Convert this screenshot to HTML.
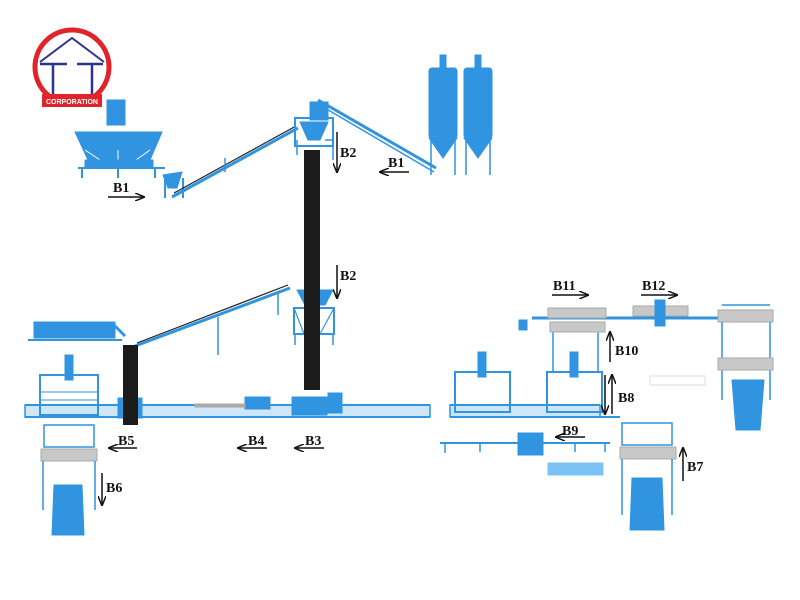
<!DOCTYPE html>
<html><head><meta charset="utf-8"><style>
html,body{margin:0;padding:0;background:#fff;width:800px;height:600px;overflow:hidden}
svg{display:block}
text.l{font-family:"Liberation Serif",serif;font-size:14px;fill:#111}
</style></head><body>
<svg width="800" height="600" viewBox="0 0 800 600" xmlns="http://www.w3.org/2000/svg">
<defs>
<marker id="ah" markerWidth="10" markerHeight="8" refX="9" refY="4" orient="auto" markerUnits="userSpaceOnUse"><path d="M0,0 L10,4 L0,8" fill="none" stroke="#111" stroke-width="1.5"/></marker>
</defs>
<!-- logo -->
<circle cx="72" cy="67" r="37" fill="#fff" stroke="#e0242a" stroke-width="5"/>
<path d="M40,62 L72,38 L104,62" fill="none" stroke="#2b3590" stroke-width="2"/>
<path d="M40,64 H67 M53,64 V94 M77,64 H103 M92,64 V94" stroke="#2b3590" stroke-width="2.5"/>
<rect x="42" y="94" width="60" height="13" fill="#e0242a"/>
<text x="72" y="104" text-anchor="middle" font-family="Liberation Sans,sans-serif" font-size="7" font-weight="bold" fill="#fff">CORPORATION</text>

<g fill="#3194e0" stroke="#3194e0">
<!-- mixer B1 -->
<rect x="107" y="100" width="18" height="25"/>
<path d="M75,132 H162 L150,160 H88 Z"/>
<path d="M85,150 L100,160 M118,150 L118,160 M150,150 L136,160" stroke="#fff" stroke-width="1"/>
<rect x="85" y="160" width="68" height="7"/>
<path d="M78,168 H165" stroke-width="2"/>
<path d="M82,168 V178 M118,168 V178 M155,168 V178" stroke-width="2"/>
<path d="M163,175 L182,172 L177,188 H168 Z"/>
<path d="M165,178 V198 M183,178 V198" stroke-width="2"/>
<!-- conveyor 1 -->
<path d="M172,197 L298,128" stroke-width="3"/>
<path d="M174,193 L296,126" stroke="#222" stroke-width="1.2"/>
<path d="M225,172 V158" stroke-width="1.5" fill="none"/>
<!-- tower -->
<rect x="295" y="118" width="38" height="28" fill="none" stroke-width="2"/>
<path d="M300,122 H328 L320,140 H308 Z"/>
<rect x="310" y="102" width="18" height="18"/>
<path d="M325,140 H333 V160 M297,140 V155" stroke-width="1.5" fill="none"/>
<!-- conveyor to silos -->
<path d="M318,100 L436,168" stroke-width="3"/>
<path d="M318,104 L434,172" stroke-width="1.5"/>
<!-- silos -->
<rect x="429" y="68" width="28" height="70" rx="3"/>
<path d="M429,138 L443,158 L457,138 Z"/>
<rect x="440" y="55" width="6" height="14"/>
<path d="M431,138 V175 M455,138 V175" stroke-width="1.5"/>
<rect x="464" y="68" width="28" height="70" rx="3"/>
<path d="M464,138 L478,158 L492,138 Z"/>
<rect x="475" y="55" width="6" height="14"/>
<path d="M466,138 V175 M490,138 V175" stroke-width="1.5"/>
<!-- second tower section -->
<path d="M297,290 H333 L325,305 H305 Z"/>
<rect x="294" y="308" width="40" height="26" fill="none" stroke-width="2"/>
<path d="M294,308 L304,334 M334,308 L320,334" stroke-width="1.2" fill="none"/>
<path d="M295,334 V345 M333,334 V345" stroke-width="1.5"/>
<!-- conveyor 2 -->
<path d="M135,346 L290,288" stroke-width="3"/>
<path d="M137,343 L288,285" stroke="#222" stroke-width="1.2"/>
<path d="M218,317 V355 M278,292 V315" stroke-width="1.5"/>
<!-- left top machine -->
<path d="M34,322 H115 V338 H34 Z"/>
<path d="M28,340 H122" stroke-width="2"/>
<path d="M115,326 L125,336" stroke-width="3"/>
<!-- main line left -->
<rect x="25" y="405" width="405" height="12" fill="#cfe6f8" stroke-width="1.5"/>
<path d="M25,405 H430 M25,417 H430" stroke-width="2"/>
<rect x="118" y="398" width="24" height="20"/>
<rect x="245" y="397" width="25" height="12"/>
<rect x="292" y="397" width="35" height="18"/>
<rect x="328" y="393" width="14" height="20"/>
<rect x="195" y="404" width="50" height="3" fill="#aaa" stroke="#aaa"/>
<!-- left gantry -->
<rect x="40" y="375" width="58" height="40" fill="none" stroke-width="2"/>
<rect x="65" y="355" width="8" height="25"/>
<path d="M40,392 H98 M40,400 H98" stroke-width="1"/>
<rect x="44" y="425" width="50" height="22" fill="none" stroke-width="1.5"/>
<rect x="41" y="449" width="56" height="12" fill="#c8c8c8" stroke="#aaa"/>
<path d="M43,461 V510 M95,461 V510" stroke-width="1.5"/>
<path d="M54,485 H82 L84,535 H52 Z"/>
<!-- right line -->
<rect x="450" y="405" width="150" height="12" fill="#cfe6f8" stroke-width="1.5"/>
<path d="M450,405 H600 M450,417 H620" stroke-width="2"/>
<rect x="455" y="372" width="55" height="40" fill="none" stroke-width="2"/>
<rect x="478" y="352" width="8" height="25"/>
<rect x="547" y="372" width="55" height="40" fill="none" stroke-width="2"/>
<rect x="570" y="352" width="8" height="25"/>
<path d="M553,330 V372 M598,330 V372" stroke-width="1.5"/>
<!-- top right line -->
<path d="M532,318 H718" stroke-width="3"/>
<rect x="519" y="320" width="8" height="10"/>
<rect x="548" y="308" width="58" height="10" fill="#c8c8c8" stroke="#aaa"/>
<rect x="550" y="322" width="55" height="10" fill="#c8c8c8" stroke="#aaa"/>
<rect x="633" y="306" width="55" height="10" fill="#c8c8c8" stroke="#aaa"/>
<rect x="655" y="300" width="10" height="26"/>
<!-- far right gantry -->
<rect x="718" y="310" width="55" height="12" fill="#c8c8c8" stroke="#aaa"/>
<path d="M722,305 H770 M722,322 V400 M770,322 V400" stroke-width="1.5"/>
<rect x="718" y="358" width="55" height="12" fill="#c8c8c8" stroke="#aaa"/>
<path d="M732,380 H764 L760,430 H736 Z"/>
<!-- B9 conveyor -->
<path d="M440,443 H610" stroke-width="2"/>
<rect x="518" y="433" width="25" height="22"/>
<path d="M445,443 V453 M480,443 V452 M575,443 V452 M605,443 V452" stroke-width="1.5"/>
<rect x="548" y="463" width="55" height="12" fill="#7cc3f5" stroke="#7cc3f5"/>
<!-- B7 gantry -->
<rect x="622" y="423" width="50" height="22" fill="none" stroke-width="1.5"/>
<rect x="620" y="447" width="56" height="12" fill="#c8c8c8" stroke="#aaa"/>
<path d="M622,459 V515 M672,459 V515" stroke-width="1.5"/>
<path d="M632,478 H662 L664,530 H630 Z"/>
</g>
<!-- black belts -->
<rect x="304" y="150" width="16" height="240" fill="#1b1b1b"/>
<rect x="123" y="345" width="15" height="80" fill="#1b1b1b"/>
<g fill="none" stroke="#ddd"><rect x="650" y="376" width="55" height="9"/></g>

<!-- arrows -->
<g stroke="#111" stroke-width="1.5" fill="none">
<path d="M108,197 H144" marker-end="url(#ah)"/>
<path d="M409,172 H380" marker-end="url(#ah)"/>
<path d="M337,132 V172" marker-end="url(#ah)"/>
<path d="M337,265 V298" marker-end="url(#ah)"/>
<path d="M137,448 H109" marker-end="url(#ah)"/>
<path d="M267,448 H238" marker-end="url(#ah)"/>
<path d="M324,448 H295" marker-end="url(#ah)"/>
<path d="M102,473 V505" marker-end="url(#ah)"/>
<path d="M552,295 H588" marker-end="url(#ah)"/>
<path d="M641,295 H677" marker-end="url(#ah)"/>
<path d="M610,362 V332" marker-end="url(#ah)"/>
<path d="M605,375 V414" marker-end="url(#ah)"/>
<path d="M612,414 V375" marker-end="url(#ah)"/>
<path d="M585,437 H556" marker-end="url(#ah)"/>
<path d="M683,481 V448" marker-end="url(#ah)"/>
</g>
<g font-weight="bold">
<text class="l" x="113" y="192">B1</text>
<text class="l" x="388" y="167">B1</text>
<text class="l" x="340" y="157">B2</text>
<text class="l" x="340" y="280">B2</text>
<text class="l" x="118" y="445">B5</text>
<text class="l" x="248" y="445">B4</text>
<text class="l" x="305" y="445">B3</text>
<text class="l" x="106" y="492">B6</text>
<text class="l" x="553" y="290">B11</text>
<text class="l" x="642" y="290">B12</text>
<text class="l" x="615" y="355">B10</text>
<text class="l" x="618" y="402">B8</text>
<text class="l" x="562" y="435">B9</text>
<text class="l" x="687" y="471">B7</text>
</g>
</svg>
</body></html>
